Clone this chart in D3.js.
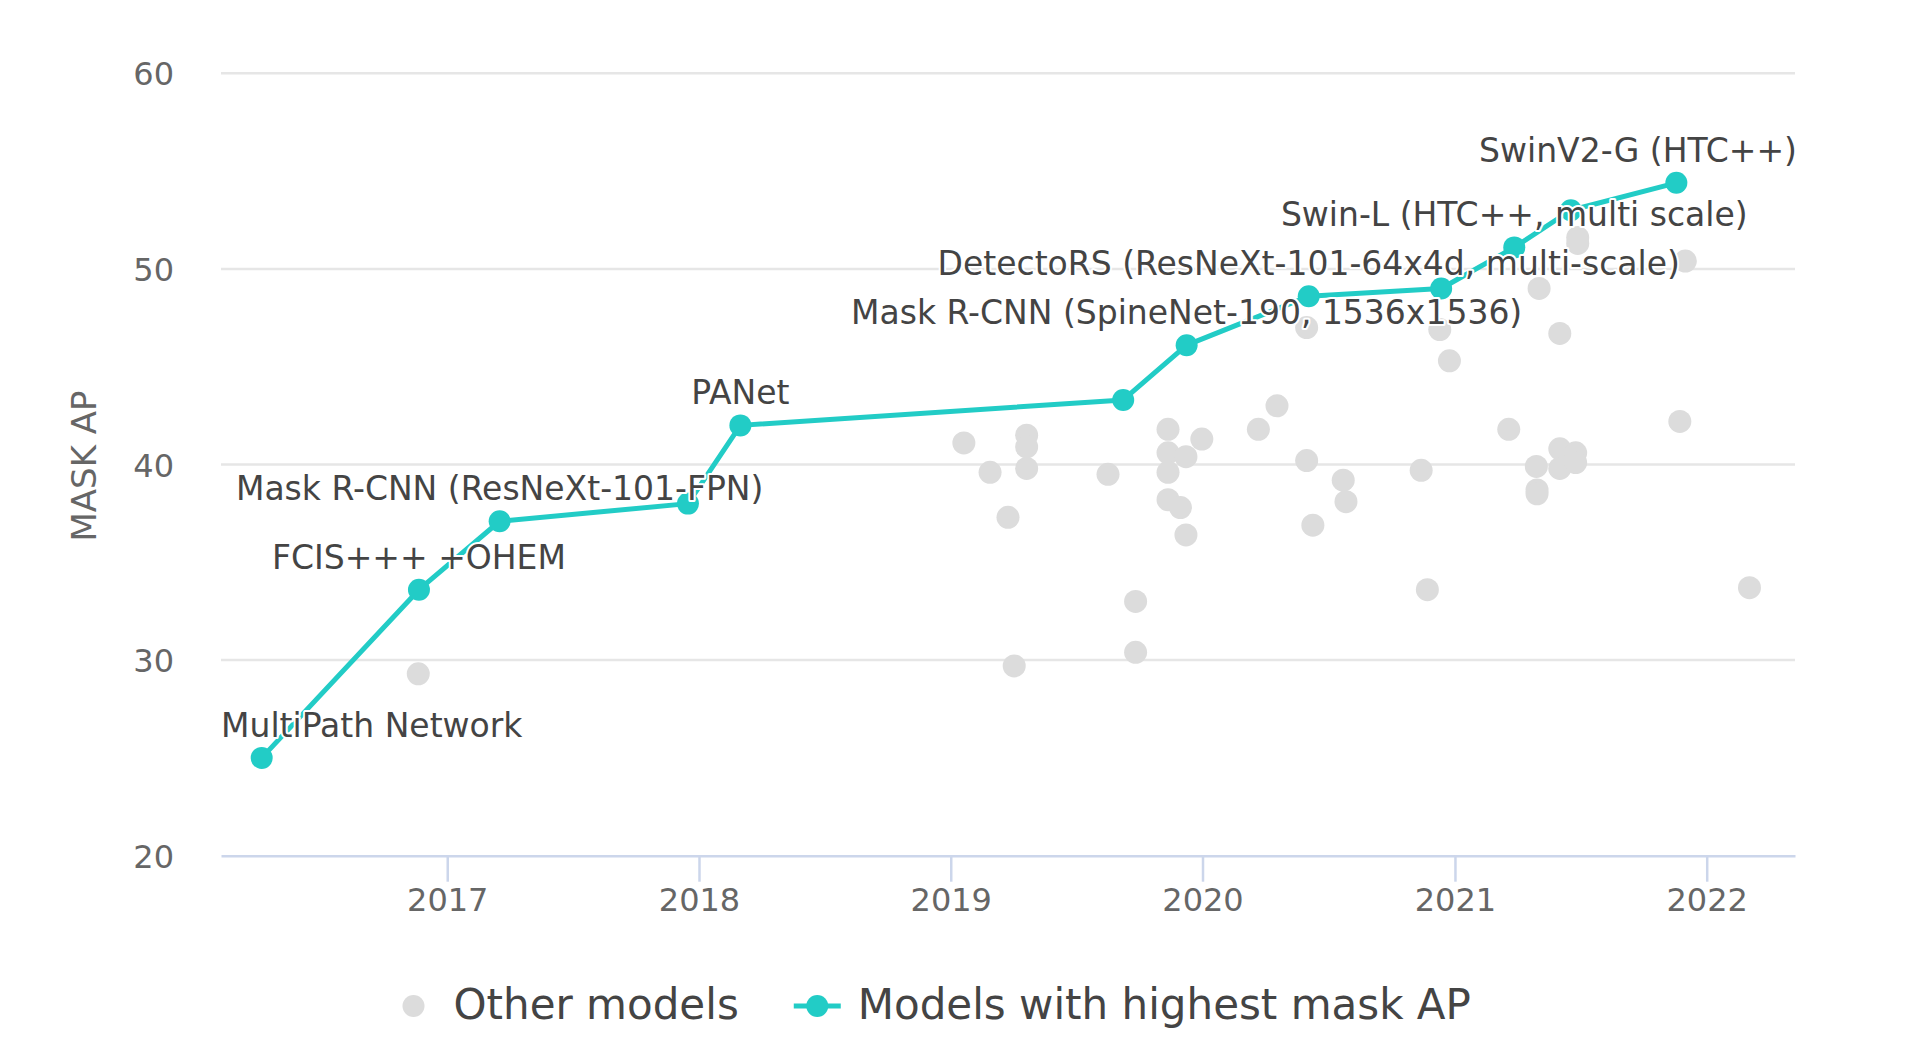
<!DOCTYPE html>
<html>
<head>
<meta charset="utf-8">
<script src="https://cdn.jsdelivr.net/npm/d3@7"></script>
<style>
	html, body { margin: 0; padding: 0; background: #ffffff; }
	svg { display: block; font-family: "DejaVu Sans", Verdana, sans-serif; }
</style>
</head>
<body>
<div id="chart"></div>
<script>
"use strict";

// best models (teal line)
var bestDates = ["2016-04-07", "2016-11-21", "2017-03-18", "2017-12-16", "2018-03-02", "2019-09-08",
	"2019-12-09", "2020-06-03", "2020-12-12", "2021-03-28", "2021-06-18", "2021-11-18"];
var bestValues = [25.0, 33.6, 37.1, 38.0, 42.0, 43.3, 46.1, 48.6, 49.0, 51.1, 53.0, 54.4];
var bestLabels = ["MultiPath Network", "FCIS+++ +OHEM", "Mask R-CNN (ResNeXt-101-FPN)", "", "PANet", "",
	"Mask R-CNN (SpineNet-190, 1536x1536)", "DetectoRS (ResNeXt-101-64x4d, multi-scale)", "",
	"Swin-L (HTC++, multi scale)", "", "SwinV2-G (HTC++)"];

// other models (grey dots)
var otherDates = ["2016-11-20", "2019-01-20", "2019-02-27", "2019-03-25", "2019-04-03", "2019-04-21",
	"2019-04-21", "2019-04-21", "2019-08-17", "2019-09-26", "2019-09-26", "2019-11-12", "2019-11-12",
	"2019-11-12", "2019-11-12", "2019-11-30", "2019-12-08", "2019-12-08", "2019-12-31", "2020-03-22",
	"2020-04-18", "2020-05-31", "2020-05-31", "2020-06-09", "2020-07-23", "2020-07-27", "2020-11-13",
	"2020-11-22", "2020-12-10", "2020-12-24", "2021-03-20", "2021-04-29", "2021-04-30", "2021-04-30",
	"2021-05-03", "2021-06-02", "2021-06-02", "2021-06-02", "2021-06-25", "2021-06-25", "2021-06-28",
	"2021-06-28", "2021-11-23", "2021-12-01", "2022-03-04"];
var otherValues = [29.3, 41.1, 39.6, 37.3, 29.7, 41.5,
	40.9, 39.8, 39.5, 33.0, 30.4, 41.8, 40.6,
	39.6, 38.2, 37.8, 36.4, 40.4, 41.3, 41.8,
	43.0, 47.0, 40.2, 36.9, 39.2, 38.1, 39.7,
	33.6, 46.9, 45.3, 41.8, 39.9, 38.7, 38.5,
	49.0, 40.8, 39.8, 46.7, 40.6, 40.1, 51.6,
	51.3, 42.2, 50.4, 33.7];

var yTicks = [20, 30, 40, 50, 60];
var xDomain = ["2016-02-08", "2022-05-09"];
var legendNames = ["Other models", "Models with highest mask AP"];

var width = 1922, height = 1062;
var plot = { left: 221, right: 1795, top: 73.3, bottom: 855.7 };
var teal = "#22ccc6", grey = "#dcdcdc";

var parse = d3.timeParse("%Y-%m-%d");

var svg = d3.select("#chart")
	.append("svg")
	.attr("width", width)
	.attr("height", height);

var x = d3.scaleTime()
	.domain(xDomain.map(parse))
	.range([plot.left, plot.right]);

var y = d3.scaleLinear()
	.domain([20, 60])
	.range([plot.bottom, plot.top]);

// grid lines
svg.append("g")
	.selectAll("line").data(yTicks.slice(1))
	.enter().append("line")
	.attr("x1", plot.left)
	.attr("x2", plot.right)
	.attr("y1", d => y(d))
	.attr("y2", d => y(d))
	.style("stroke", "#e6e6e6")
	.style("stroke-width", 2.5);

// y tick labels
svg.append("g")
	.selectAll("text").data(yTicks)
	.enter().append("text")
	.attr("x", 174)
	.attr("y", d => y(d) + 12)
	.style("text-anchor", "end")
	.style("font-size", "32px")
	.style("fill", "#666666")
	.text(d => d);

// y axis title
svg.append("text")
	.attr("transform", "translate(96, 466) rotate(-90)")
	.style("text-anchor", "middle")
	.style("font-size", "34px")
	.style("fill", "#666666")
	.text("MASK AP");

// x axis
var xAxis = svg.append("g")
	.attr("transform", `translate(0, ${plot.bottom})`)
	.call(d3.axisBottom(x)
		.ticks(d3.timeYear.every(1))
		.tickFormat(d3.timeFormat("%Y"))
		.tickSize(26)
		.tickSizeOuter(0)
		.tickPadding(7));

xAxis.select(".domain")
	.style("stroke", "#ccd6eb")
	.style("stroke-width", 2.5);
xAxis.selectAll(".tick line")
	.style("stroke", "#ccd6eb")
	.style("stroke-width", 2.5);
xAxis.selectAll(".tick text")
	.style("font-size", "32px")
	.style("font-family", "\"DejaVu Sans\", Verdana, sans-serif")
	.style("fill", "#666666");

// other models
svg.append("g")
	.selectAll("circle").data(otherDates.map((d, i) => ({ date: parse(d), value: otherValues[i] })))
	.enter().append("circle")
	.attr("cx", d => x(d.date))
	.attr("cy", d => y(d.value))
	.attr("r", 11.5)
	.style("fill", grey);

// best models
var best = bestDates.map((d, i) => ({ date: parse(d), value: bestValues[i], label: bestLabels[i] }));

var line = d3.line()
	.x(d => x(d.date))
	.y(d => y(d.value));

svg.append("path")
	.datum(best)
	.attr("d", line)
	.style("fill", "none")
	.style("stroke", teal)
	.style("stroke-width", 5)
	.style("stroke-linejoin", "round");

svg.append("g")
	.selectAll("circle").data(best)
	.enter().append("circle")
	.attr("cx", d => x(d.date))
	.attr("cy", d => y(d.value))
	.attr("r", 11)
	.style("fill", teal);

// data labels, kept inside the plot area
svg.append("g")
	.selectAll("text").data(best.filter(d => d.label))
	.enter().append("text")
	.attr("y", d => y(d.value) - 21)
	.style("font-size", "33px")
	.style("fill", "#444444")
	.style("stroke", "#ffffff")
	.style("stroke-width", 4)
	.style("stroke-linejoin", "round")
	.style("paint-order", "stroke")
	.text(d => d.label)
	.each(function (d) {
		let w = this.getComputedTextLength();
		let left = x(d.date) - w / 2;
		left = Math.max(plot.left, Math.min(left, plot.right + 2 - w));
		d3.select(this).attr("x", left);
	});

// legend
var legend = svg.append("g");
var legendY = 1019;

var item1 = legend.append("g");
item1.append("circle")
	.attr("cx", 0)
	.attr("cy", legendY - 13)
	.attr("r", 11)
	.style("fill", grey);
var t1 = item1.append("text")
	.attr("x", 40)
	.attr("y", legendY)
	.style("font-size", "42px")
	.style("fill", "#444444")
	.text(legendNames[0]);

var item2x = 40 + t1.node().getComputedTextLength() + 55;
var item2 = legend.append("g").attr("transform", `translate(${item2x}, 0)`);
item2.append("line")
	.attr("x1", 0)
	.attr("x2", 47)
	.attr("y1", legendY - 13)
	.attr("y2", legendY - 13)
	.style("stroke", teal)
	.style("stroke-width", 5);
item2.append("circle")
	.attr("cx", 23.5)
	.attr("cy", legendY - 13)
	.attr("r", 11)
	.style("fill", teal);
item2.append("text")
	.attr("x", 64)
	.attr("y", legendY)
	.style("font-size", "42px")
	.style("fill", "#444444")
	.text(legendNames[1]);

legend.attr("transform", "translate(413.5, 0)");
</script>
</body>
</html>
